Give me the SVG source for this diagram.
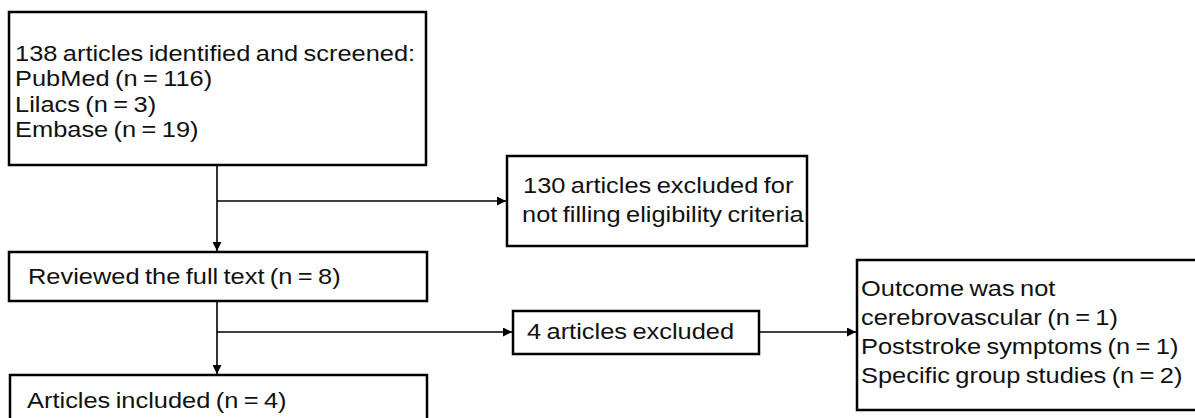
<svg xmlns="http://www.w3.org/2000/svg" width="1195" height="418" viewBox="0 0 1195 418">
  <style>
    .box { fill: #ffffff; stroke: #000000; stroke-width: 2.5; }
    .txt { font-family: "Liberation Sans", Arial, sans-serif; font-size: 22.5px; fill: #111111; word-spacing: -1.5px; }
    .conn { stroke: #000000; stroke-width: 1.6; fill: none; }
  </style>
  <defs>
    <marker id="arrow" viewBox="0 0 10 10" refX="10" refY="5" markerWidth="10" markerHeight="9" markerUnits="userSpaceOnUse" orient="auto">
      <path d="M0,0 L10,5 L0,10 Z" fill="#000000"/>
    </marker>
  </defs>
  <rect width="1195" height="418" fill="#ffffff"/>

  <g id="connectors">
    <line class="conn" x1="217" y1="166" x2="217" y2="251" marker-end="url(#arrow)"/>
    <line class="conn" x1="217" y1="201" x2="506" y2="201" marker-end="url(#arrow)"/>
    <line class="conn" x1="217" y1="302" x2="217" y2="374" marker-end="url(#arrow)"/>
    <line class="conn" x1="217" y1="332" x2="512" y2="332" marker-end="url(#arrow)"/>
    <line class="conn" x1="760" y1="332" x2="856" y2="332" marker-end="url(#arrow)"/>
  </g>

  <g id="identified">
    <rect class="box" x="9" y="12" width="417" height="153"/>
    <text class="txt" transform="translate(15,61) scale(1.13,1)">138 articles identified and screened:</text>
    <text class="txt" transform="translate(15,86) scale(1.13,1)">PubMed (n = 116)</text>
    <text class="txt" transform="translate(15,112) scale(1.13,1)">Lilacs (n = 3)</text>
    <text class="txt" transform="translate(15,137) scale(1.13,1)">Embase (n = 19)</text>
  </g>

  <g id="excluded130">
    <rect class="box" x="507" y="156" width="300" height="90"/>
    <text class="txt" transform="translate(523,193) scale(1.13,1)">130 articles excluded for</text>
    <text class="txt" transform="translate(522,222) scale(1.13,1)">not filling eligibility criteria</text>
  </g>

  <g id="reviewed">
    <rect class="box" x="9" y="252" width="418" height="49"/>
    <text class="txt" transform="translate(28,284) scale(1.13,1)">Reviewed the full text (n = 8)</text>
  </g>

  <g id="excluded4">
    <rect class="box" x="513" y="311" width="246" height="43"/>
    <text class="txt" transform="translate(527,339) scale(1.13,1)">4 articles excluded</text>
  </g>

  <g id="reasons">
    <rect class="box" x="857" y="260" width="350" height="150"/>
    <text class="txt" transform="translate(861,296) scale(1.13,1)">Outcome was not</text>
    <text class="txt" transform="translate(861,325) scale(1.13,1)">cerebrovascular (n = 1)</text>
    <text class="txt" transform="translate(861,354) scale(1.13,1)">Poststroke symptoms (n = 1)</text>
    <text class="txt" transform="translate(861,383) scale(1.13,1)">Specific group studies (n = 2)</text>
  </g>

  <g id="included">
    <rect class="box" x="10" y="375" width="417" height="60"/>
    <text class="txt" transform="translate(27,408) scale(1.13,1)">Articles included (n = 4)</text>
  </g>
</svg>
